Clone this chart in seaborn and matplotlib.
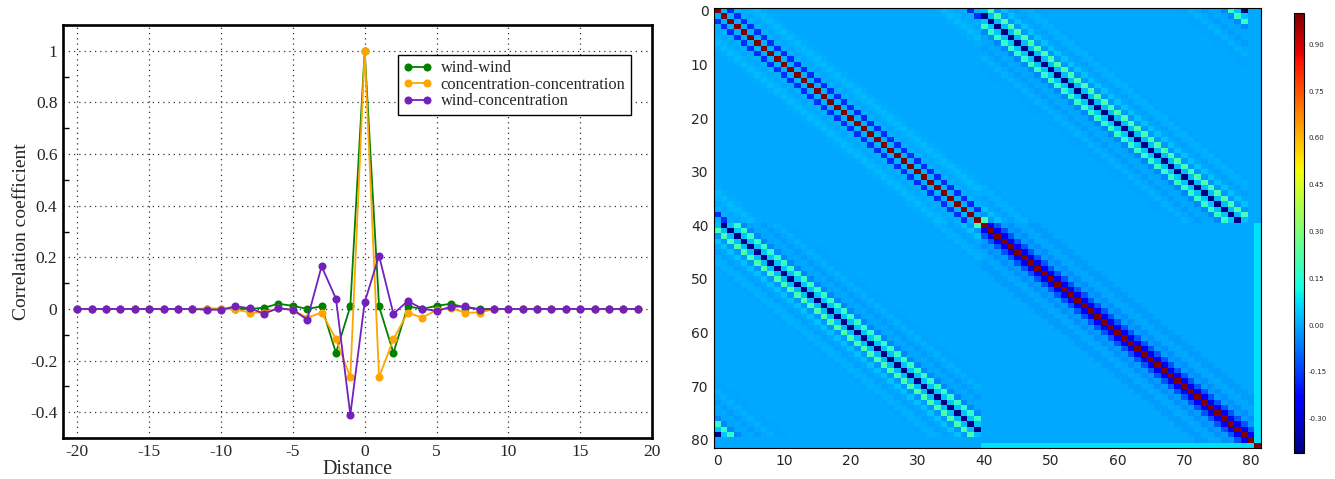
import numpy as np
import pandas as pd
import matplotlib
matplotlib.use('Agg')
import matplotlib.pyplot as plt
import seaborn as sns
from matplotlib.ticker import MultipleLocator

# correlation against distance (distance -20 to 19)
distance = list(range(-20, 20))
wind_wind = [0, 0, 0, 0, 0, 0, 0, 0, 0, 0.001, 0.001, 0, 0, 0.005, 0.02, 0.012, 0, 0.01, -0.17, 0.01,
             1.0, 0.01, -0.17, 0.01, 0, 0.012, 0.02, 0.005, 0, 0, 0, 0, 0, 0, 0, 0, 0, 0, 0, 0]
conc_conc = [0, 0, 0, 0, 0, 0, 0, 0, 0, -0.001, 0, -0.002, -0.014, -0.014, 0.003, -0.004, -0.034, -0.014, -0.117, -0.265,
             1.0, -0.265, -0.117, -0.014, -0.034, -0.004, 0.003, -0.014, -0.014, -0.001, 0, 0, 0, 0, 0, 0, 0, 0, 0, 0]
wind_conc = [0, 0, 0, 0, 0, 0, 0, 0, 0, -0.003, -0.003, 0.01, 0.003, -0.018, 0.003, -0.004, -0.041, 0.165, 0.04, -0.41,
             0.026, 0.206, -0.019, 0.031, 0.001, -0.008, 0.008, 0.01, -0.003, 0, 0, 0, 0, 0, 0, 0, 0, 0, 0, 0]

series_names = ['wind-wind', 'concentration-concentration', 'wind-concentration']
series_colors = ['#008000', '#ffa500', '#7320bd']
y_ticks = [-0.4, -0.2, 0, 0.2, 0.4, 0.6, 0.8, 1]
y_labels = ['-0.4', '-0.2', '0', '0.2', '0.4', '0.6', '0.8', '1']
x_ticks = [-20, -15, -10, -5, 0, 5, 10, 15, 20]
cbar_ticks = [-0.30, -0.15, 0.00, 0.15, 0.30, 0.45, 0.60, 0.75, 0.90]
n_wind = 40
n_total = 82
last_row_value = 0.08

df = pd.DataFrame({'distance': distance, series_names[0]: wind_wind,
                   series_names[1]: conc_conc, series_names[2]: wind_conc})
long_df = df.melt(id_vars='distance', var_name='pair', value_name='corr')

# matrix on the right: same lag profiles, periodic in the first 40 indices
ww = dict(zip(distance, wind_wind))
cc = dict(zip(distance, conc_conc))
wc = dict(zip(distance, wind_conc))


def wrap(d):
    return (d + 20) % n_wind - 20


matrix = np.zeros((n_total, n_total))
for i in range(n_wind):
    for j in range(n_wind):
        matrix[i, j] = ww[wrap(j - i)]
        matrix[i, j + n_wind] = wc[wrap(j - i)]
        matrix[j + n_wind, i] = wc[wrap(j - i)]
for i in range(n_wind, n_total - 1):
    for j in range(n_wind, n_total - 1):
        d = j - i
        matrix[i, j] = cc[d] if -20 <= d < 20 else 0
matrix[n_total - 1, n_wind:n_total - 1] = last_row_value
matrix[n_wind:n_total - 1, n_total - 1] = last_row_value
matrix[n_total - 1, n_total - 1] = 1.0

sns.set_style('white')
plt.rcParams['axes.unicode_minus'] = False

W, H = 1335, 479
fig = plt.figure(figsize=(W / 100, H / 100), dpi=100)


def px_axes(left, top, right, bottom):
    return fig.add_axes([left / W, 1 - bottom / H, (right - left) / W, (bottom - top) / H])


# left panel
ax = px_axes(63, 25, 652, 438)
sns.lineplot(data=long_df, x='distance', y='corr', hue='pair', hue_order=series_names,
             palette=series_colors, marker='o', markersize=5.8, markeredgewidth=0,
             linewidth=1.3, ax=ax, legend=False, zorder=3)
ax.set_xlim(-21, 20)
ax.set_ylim(-0.5, 1.1)
ax.set_xticks(x_ticks)
ax.set_xticklabels([str(t) for t in x_ticks], family='Liberation Serif', fontsize=12.5)
ax.set_yticks(y_ticks)
ax.set_yticklabels(y_labels, family='Liberation Serif', fontsize=12.5)
ax.yaxis.set_minor_locator(MultipleLocator(0.1))
ax.tick_params(axis='both', which='major', length=0, pad=4)
ax.tick_params(axis='y', which='minor', left=True, direction='in', length=4.5, width=1, color='black')
ax.grid(True, which='major', linestyle=(0, (1, 3.2)), color='#333333', linewidth=0.9)
ax.set_axisbelow(True)
for s in ax.spines.values():
    s.set_color('black')
    s.set_linewidth(1.9)
ax.set_xlabel('Distance', family='Liberation Serif', fontsize=14.5, labelpad=0.5)
ax.set_ylabel('Correlation coefficient', family='Liberation Serif', fontsize=14, labelpad=0)

handles = [plt.Line2D([], [], color=c, marker='o', markersize=5.8, markeredgewidth=0, linewidth=1.3)
           for c in series_colors]
leg = ax.legend(handles, series_names, numpoints=2, loc='upper left',
                bbox_to_anchor=((398 - 63) / 589, 1 - (55 - 25) / 413), borderaxespad=0,
                prop={'family': 'Liberation Serif', 'size': 11.9}, frameon=True, fancybox=False,
                framealpha=1, edgecolor='black', handlelength=1.75, handletextpad=0.5,
                labelspacing=0.03, borderpad=0.33)
leg.get_frame().set_linewidth(1)
leg.set_zorder(5)

# right panel
ax2 = px_axes(714, 8, 1261, 448)
cax = px_axes(1294, 13, 1304, 453)
sns.heatmap(matrix, cmap='jet', vmin=min(wind_conc), vmax=1.0, ax=ax2, cbar_ax=cax,
            cbar_kws={'ticks': cbar_ticks, 'format': '%.2f'}, xticklabels=False, yticklabels=False)
tick_pos = np.arange(0, 81, 10) + 0.5
ax2.set_xticks(tick_pos)
ax2.set_xticklabels(np.arange(0, 81, 10), fontsize=10, rotation=0)
ax2.set_yticks(tick_pos)
ax2.set_yticklabels(np.arange(0, 81, 10), fontsize=10, rotation=0)
ax2.tick_params(axis='both', direction='in', length=3, width=0.8, color='black', pad=4,
                top=True, right=True, bottom=True, left=True)
for s in ax2.spines.values():
    s.set_visible(True)
    s.set_color('black')
    s.set_linewidth(0.8)
cax.tick_params(direction='in', length=3, width=0.7, color='black', labelsize=5, pad=3, right=True)
cb = ax2.collections[0].colorbar
cb.outline.set_visible(True)
cb.outline.set_edgecolor('black')
cb.outline.set_linewidth(0.8)

fig.savefig('out.png', dpi=100)
